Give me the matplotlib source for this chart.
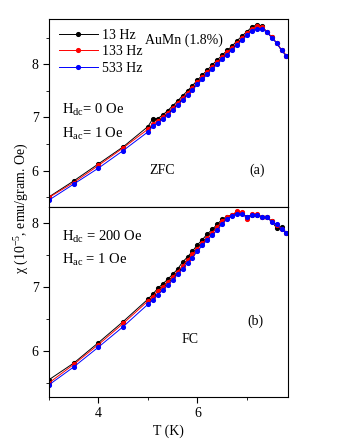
import numpy as np
import matplotlib.pyplot as plt
from matplotlib.ticker import MultipleLocator

plt.rcParams['font.family'] = ['Liberation Serif', 'DejaVu Serif']
plt.rcParams['mathtext.fontset'] = 'custom'
plt.rcParams['mathtext.rm'] = 'Liberation Serif'
plt.rcParams['mathtext.it'] = 'Liberation Serif:italic'

# temperature points (K)
T = [3.0, 3.5, 4.0, 4.5, 5.0, 5.1, 5.2, 5.3, 5.4, 5.5, 5.6, 5.7, 5.8, 5.9,
     6.0, 6.1, 6.2, 6.3, 6.4, 6.5, 6.6, 6.7, 6.8, 6.9, 7.0, 7.1, 7.2, 7.3,
     7.4, 7.5, 7.6, 7.7, 7.8]

labels = ['13 Hz', '133 Hz', '533 Hz']
colors = ['black', 'red', 'blue']

# (a) ZFC
zfc_13 = [5.51, 5.81, 6.13, 6.45, 6.83, 6.98, 6.98, 7.05, 7.13, 7.22, 7.31,
          7.41, 7.50, 7.60, 7.70, 7.80, 7.89, 7.99, 8.08, 8.17, 8.26, 8.34,
          8.44, 8.53, 8.61, 8.70, 8.74, 8.72, 8.61, 8.51, 8.40, 8.26, 8.16]
zfc_133 = [5.50, 5.78, 6.10, 6.43, 6.78, 6.88, 6.94, 7.01, 7.09, 7.18, 7.27,
           7.37, 7.46, 7.56, 7.66, 7.76, 7.85, 7.95, 8.04, 8.13, 8.22, 8.30,
           8.40, 8.49, 8.58, 8.66, 8.72, 8.70, 8.61, 8.51, 8.40, 8.27, 8.16]
zfc_533 = [5.45, 5.75, 6.05, 6.38, 6.73, 6.84, 6.90, 6.97, 7.05, 7.14, 7.23,
           7.33, 7.42, 7.52, 7.62, 7.72, 7.81, 7.91, 8.00, 8.09, 8.18, 8.27,
           8.36, 8.45, 8.54, 8.62, 8.67, 8.67, 8.60, 8.50, 8.40, 8.26, 8.15]

# (b) FC
fc_13 = [5.55, 5.81, 6.13, 6.46, 6.81, 6.89, 6.98, 7.05, 7.12, 7.20, 7.28,
         7.39, 7.47, 7.56, 7.66, 7.74, 7.83, 7.90, 7.98, 8.06, 8.10, 8.13,
         8.17, 8.16, 8.09, 8.13, 8.13, 8.10, 8.09, 8.03, 7.92, 7.93, 7.85]
fc_133 = [5.50, 5.79, 6.10, 6.43, 6.78, 6.85, 6.94, 7.00, 7.08, 7.15, 7.24,
          7.33, 7.42, 7.51, 7.60, 7.68, 7.77, 7.85, 7.94, 8.03, 8.09, 8.13,
          8.18, 8.17, 8.06, 8.14, 8.14, 8.09, 8.09, 8.03, 7.97, 7.91, 7.85]
fc_533 = [5.47, 5.75, 6.06, 6.38, 6.73, 6.80, 6.88, 6.95, 7.03, 7.11, 7.20,
          7.28, 7.38, 7.46, 7.56, 7.65, 7.74, 7.81, 7.89, 7.99, 8.06, 8.11,
          8.14, 8.14, 8.10, 8.13, 8.13, 8.09, 8.09, 8.02, 7.98, 7.90, 7.85]

fig = plt.figure(figsize=(3.4, 4.4), dpi=100)
ax1 = fig.add_axes([0.144, 0.5295, 0.703, 0.4275])
ax2 = fig.add_axes([0.144, 0.0977, 0.703, 0.4318])

for ys, c, lab in zip([zfc_13, zfc_133, zfc_533], colors, labels):
    ax1.plot(T, ys, '-o', color=c, lw=0.7, ms=2.7, label=lab)
for ys, c in zip([fc_13, fc_133, fc_533], colors):
    ax2.plot(T, ys, '-o', color=c, lw=0.7, ms=2.7)

for ax in (ax1, ax2):
    ax.set_xlim(3, 7.83)
    ax.xaxis.set_major_locator(MultipleLocator(2))
    ax.xaxis.set_minor_locator(MultipleLocator(1))
    ax.yaxis.set_major_locator(MultipleLocator(1))
    ax.yaxis.set_minor_locator(MultipleLocator(0.5))
    ax.tick_params(which='both', direction='out', labelsize=10)
    ax.tick_params(which='major', length=4)
    ax.tick_params(which='minor', length=2.5)

ax1.set_ylim(5.32, 8.85)
ax2.set_ylim(5.28, 8.25)
ax1.tick_params(axis='x', which='both', bottom=False, labelbottom=False)

ax1.legend(loc='upper left', frameon=False, fontsize=10, handlelength=2.8,
           handletextpad=0.3, labelspacing=0.25, borderaxespad=0.3,
           bbox_to_anchor=(0.0, 1.0))

ax1.text(0.40, 0.87, 'AuMn (1.8%)', transform=ax1.transAxes, fontsize=10)
ax1.text(0.055, 0.495, r'H$_{\rm dc}$= 0 Oe', transform=ax1.transAxes, fontsize=10.5)
ax1.text(0.055, 0.365, r'H$_{\rm ac}$= 1 Oe', transform=ax1.transAxes, fontsize=10.5)
ax1.text(0.42, 0.175, 'ZFC', transform=ax1.transAxes, fontsize=10)
ax1.text(0.84, 0.175, '(a)', transform=ax1.transAxes, fontsize=10)

ax2.text(0.055, 0.82, r'H$_{\rm dc}$ = 200 Oe', transform=ax2.transAxes, fontsize=10.5)
ax2.text(0.055, 0.70, r'H$_{\rm ac}$ = 1 Oe', transform=ax2.transAxes, fontsize=10.5)
ax2.text(0.83, 0.38, '(b)', transform=ax2.transAxes, fontsize=10)
ax2.text(0.555, 0.285, 'FC', transform=ax2.transAxes, fontsize=10)

ax2.set_xlabel('T (K)', fontsize=10, labelpad=3)
fig.text(0.065, 0.527, 'χ (10$^{-5}$, emu/gram. Oe)', rotation=90,
         ha='center', va='center', fontsize=10)

fig.savefig('out.png', dpi=100)
